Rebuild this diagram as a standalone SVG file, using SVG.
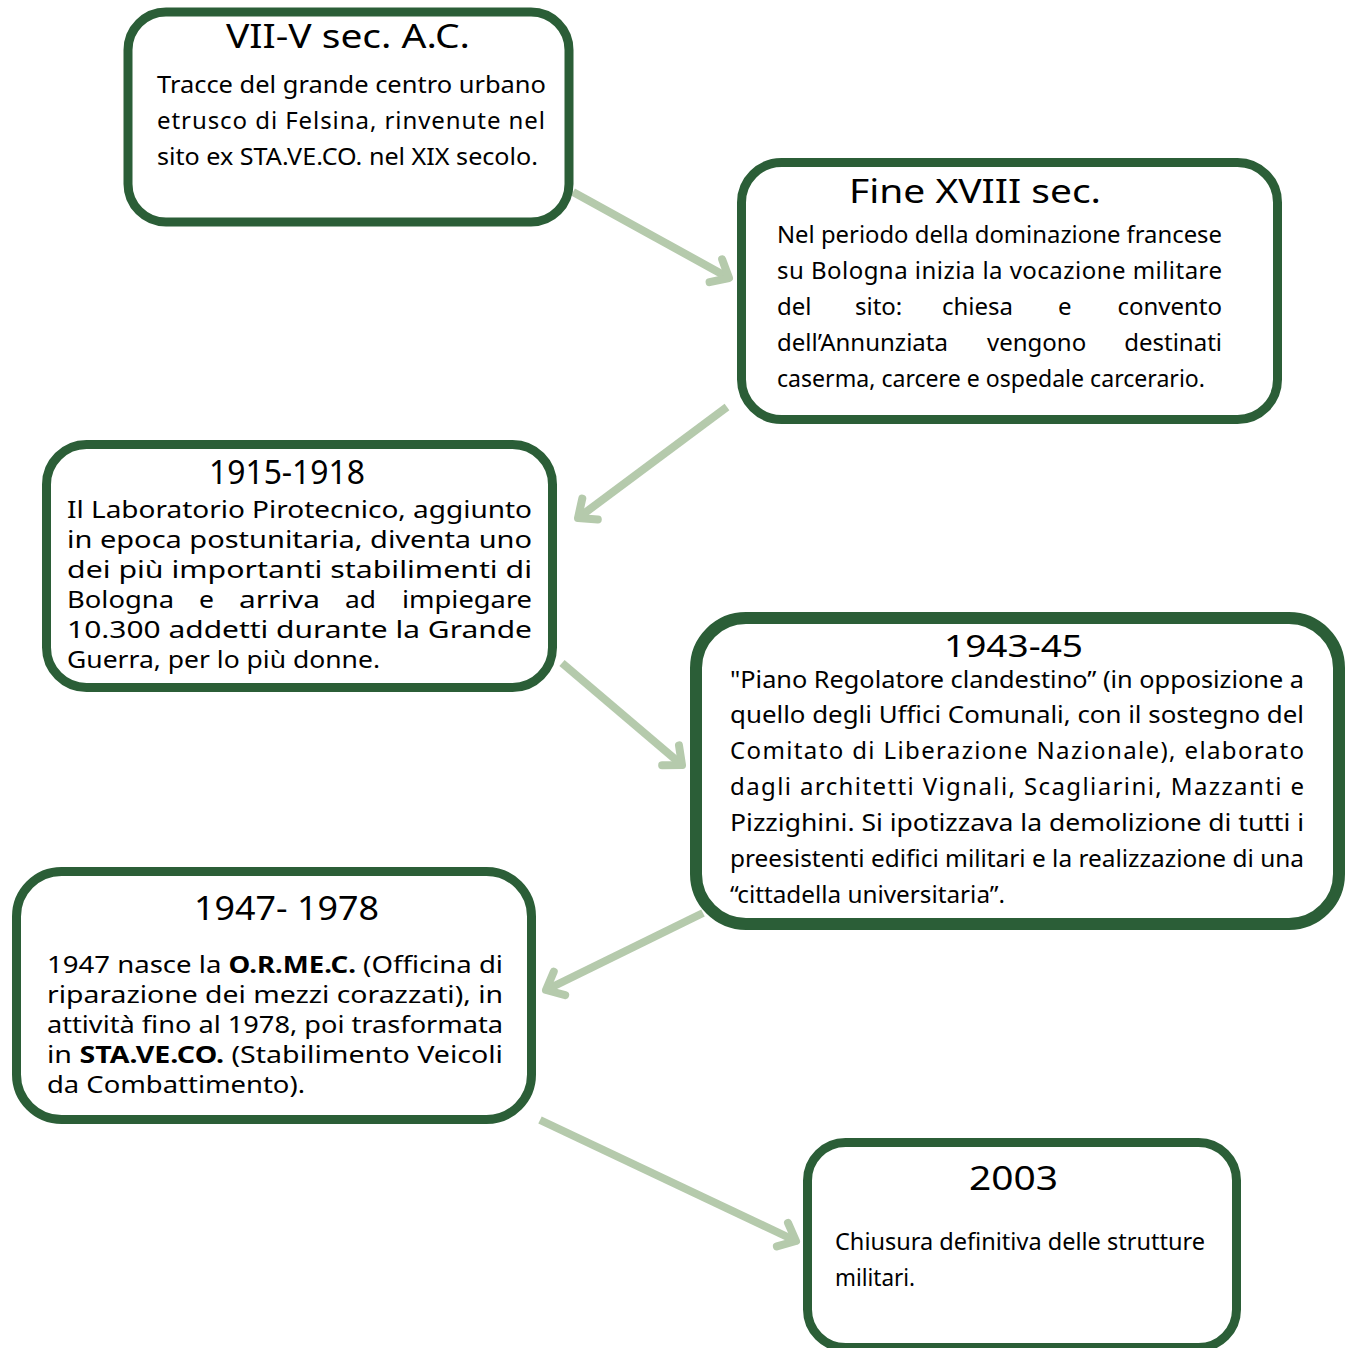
<svg xmlns="http://www.w3.org/2000/svg" width="1351" height="1348" viewBox="0 0 1351 1348">
<defs>
<style>
.box{fill:#ffffff;stroke:#2b5e37;stroke-width:9}
.thick{stroke-width:12}
.t{font-family:"Noto Sans","DejaVu Sans",sans-serif;fill:#000000}
.title{font-size:32px}
.body{font-size:24px}
.cond{font-size:24px}
.b{font-weight:bold}
.end{text-anchor:end}
.conn{stroke:#b5caac;stroke-width:8;fill:none;stroke-linecap:butt}
</style>
<marker id="ah" markerUnits="userSpaceOnUse" orient="auto" refX="0" refY="0" markerWidth="40" markerHeight="40" viewBox="-20 -20 40 40" overflow="visible">
<path d="M-15,-13 L0,0 L-15,13" fill="none" stroke="#b5caac" stroke-width="8" stroke-linecap="round" stroke-linejoin="round"/>
</marker>
</defs>
<rect width="1351" height="1348" fill="#ffffff"/>

<g id="connectors">
<line class="conn" x1="573" y1="192" x2="729" y2="278" marker-end="url(#ah)"/>
<line class="conn" x1="727" y1="407" x2="578" y2="518" marker-end="url(#ah)"/>
<line class="conn" x1="562" y1="663" x2="682" y2="765" marker-end="url(#ah)"/>
<line class="conn" x1="703" y1="913" x2="546" y2="990" marker-end="url(#ah)"/>
<line class="conn" x1="540" y1="1120" x2="796" y2="1241" marker-end="url(#ah)"/>
</g>

<g id="node1">
<rect class="box" x="128" y="12" width="441" height="210" rx="38"/>
<text class="t title" x="226" y="48" textLength="244" lengthAdjust="spacingAndGlyphs">VII-V sec. A.C.</text>
<text class="t cond" x="157" y="93" textLength="389" lengthAdjust="spacingAndGlyphs">Tracce del grande centro urbano</text>
<text class="t cond" x="157" y="129" textLength="388" lengthAdjust="spacing">etrusco di Felsina, rinvenute nel</text>
<text class="t cond" x="157" y="165" textLength="381" lengthAdjust="spacingAndGlyphs">sito ex STA.VE.CO. nel XIX secolo.</text>
</g>

<g id="node2">
<rect class="box" x="741.5" y="162.5" width="536" height="257" rx="40"/>
<text class="t title" x="849" y="203" textLength="252" lengthAdjust="spacingAndGlyphs">Fine XVIII sec.</text>
<text class="t cond" x="777" y="243" textLength="445" lengthAdjust="spacingAndGlyphs">Nel periodo della dominazione francese</text>
<text class="t cond" x="777" y="279" textLength="445" lengthAdjust="spacing">su Bologna inizia la vocazione militare</text>
<text class="t cond" y="315"><tspan x="777">del</tspan><tspan x="855">sito:</tspan><tspan x="942">chiesa</tspan><tspan x="1058">e</tspan></text>
<text class="t cond end" x="1222" y="315">convento</text>
<text class="t cond" y="351"><tspan x="777">dell’Annunziata</tspan><tspan x="987">vengono</tspan></text>
<text class="t cond end" x="1222" y="351">destinati</text>
<text class="t cond" x="777" y="387" textLength="428" lengthAdjust="spacingAndGlyphs">caserma, carcere e ospedale carcerario.</text>
</g>

<g id="node3">
<rect class="box" x="46.5" y="444.5" width="506" height="243" rx="40"/>
<text class="t title" x="209" y="484" textLength="156" lengthAdjust="spacingAndGlyphs">1915-1918</text>
<text class="t body" x="67" y="518" textLength="465" lengthAdjust="spacingAndGlyphs">Il Laboratorio Pirotecnico, aggiunto</text>
<text class="t body" x="67" y="548" textLength="465" lengthAdjust="spacingAndGlyphs">in epoca postunitaria, diventa uno</text>
<text class="t body" x="67" y="578" textLength="465" lengthAdjust="spacingAndGlyphs">dei più importanti stabilimenti di</text>
<text class="t body" x="67" y="608" textLength="107" lengthAdjust="spacingAndGlyphs">Bologna</text>
<text class="t body" x="199" y="608" textLength="15" lengthAdjust="spacingAndGlyphs">e</text>
<text class="t body" x="239" y="608" textLength="81" lengthAdjust="spacingAndGlyphs">arriva</text>
<text class="t body" x="345" y="608" textLength="31" lengthAdjust="spacingAndGlyphs">ad</text>
<text class="t body" x="402" y="608" textLength="130" lengthAdjust="spacingAndGlyphs">impiegare</text>
<text class="t body" x="67" y="638" textLength="465" lengthAdjust="spacingAndGlyphs">10.300 addetti durante la Grande</text>
<text class="t body" x="67" y="668" textLength="313" lengthAdjust="spacingAndGlyphs">Guerra, per lo più donne.</text>
</g>

<g id="node4">
<rect class="box thick" x="696" y="618" width="643" height="306" rx="50"/>
<text class="t title" x="944" y="657" style="font-size:30px" textLength="139" lengthAdjust="spacingAndGlyphs">1943-45</text>
<text class="t cond" x="730" y="688" textLength="574" lengthAdjust="spacingAndGlyphs">"Piano Regolatore clandestino” (in opposizione a</text>
<text class="t cond" x="730" y="723" textLength="574" lengthAdjust="spacingAndGlyphs">quello degli Uffici Comunali, con il sostegno del</text>
<text class="t cond" x="730" y="759" textLength="574" lengthAdjust="spacing">Comitato di Liberazione Nazionale), elaborato</text>
<text class="t cond" x="730" y="795" textLength="574" lengthAdjust="spacing">dagli architetti Vignali, Scagliarini, Mazzanti e</text>
<text class="t cond" x="730" y="831" textLength="574" lengthAdjust="spacingAndGlyphs">Pizzighini. Si ipotizzava la demolizione di tutti i</text>
<text class="t cond" x="730" y="867" textLength="574" lengthAdjust="spacingAndGlyphs">preesistenti edifici militari e la realizzazione di una</text>
<text class="t cond" x="730" y="903" textLength="275" lengthAdjust="spacingAndGlyphs">“cittadella universitaria”.</text>
</g>

<g id="node5">
<rect class="box" x="16.5" y="871.5" width="515" height="248" rx="45"/>
<text class="t title" x="194" y="920" textLength="185" lengthAdjust="spacingAndGlyphs">1947- 1978</text>
<text class="t body" x="47" y="973" textLength="456" lengthAdjust="spacingAndGlyphs">1947 nasce la <tspan class="b">O.R.ME.C.</tspan> (Officina di</text>
<text class="t body" x="47" y="1003" textLength="456" lengthAdjust="spacingAndGlyphs">riparazione dei mezzi corazzati), in</text>
<text class="t body" x="47" y="1033" textLength="456" lengthAdjust="spacingAndGlyphs">attività fino al 1978, poi trasformata</text>
<text class="t body" x="47" y="1063" textLength="456" lengthAdjust="spacingAndGlyphs">in <tspan class="b">STA.VE.CO.</tspan> (Stabilimento Veicoli</text>
<text class="t body" x="47" y="1093" textLength="258" lengthAdjust="spacingAndGlyphs">da Combattimento).</text>
</g>

<g id="node6">
<rect class="box" x="807.5" y="1142.5" width="429" height="205" rx="38"/>
<text class="t title" x="969" y="1190" textLength="89" lengthAdjust="spacingAndGlyphs">2003</text>
<text class="t cond" x="835" y="1250" textLength="370" lengthAdjust="spacingAndGlyphs">Chiusura definitiva delle strutture</text>
<text class="t cond" x="835" y="1286" textLength="80" lengthAdjust="spacingAndGlyphs">militari.</text>
</g>
</svg>
